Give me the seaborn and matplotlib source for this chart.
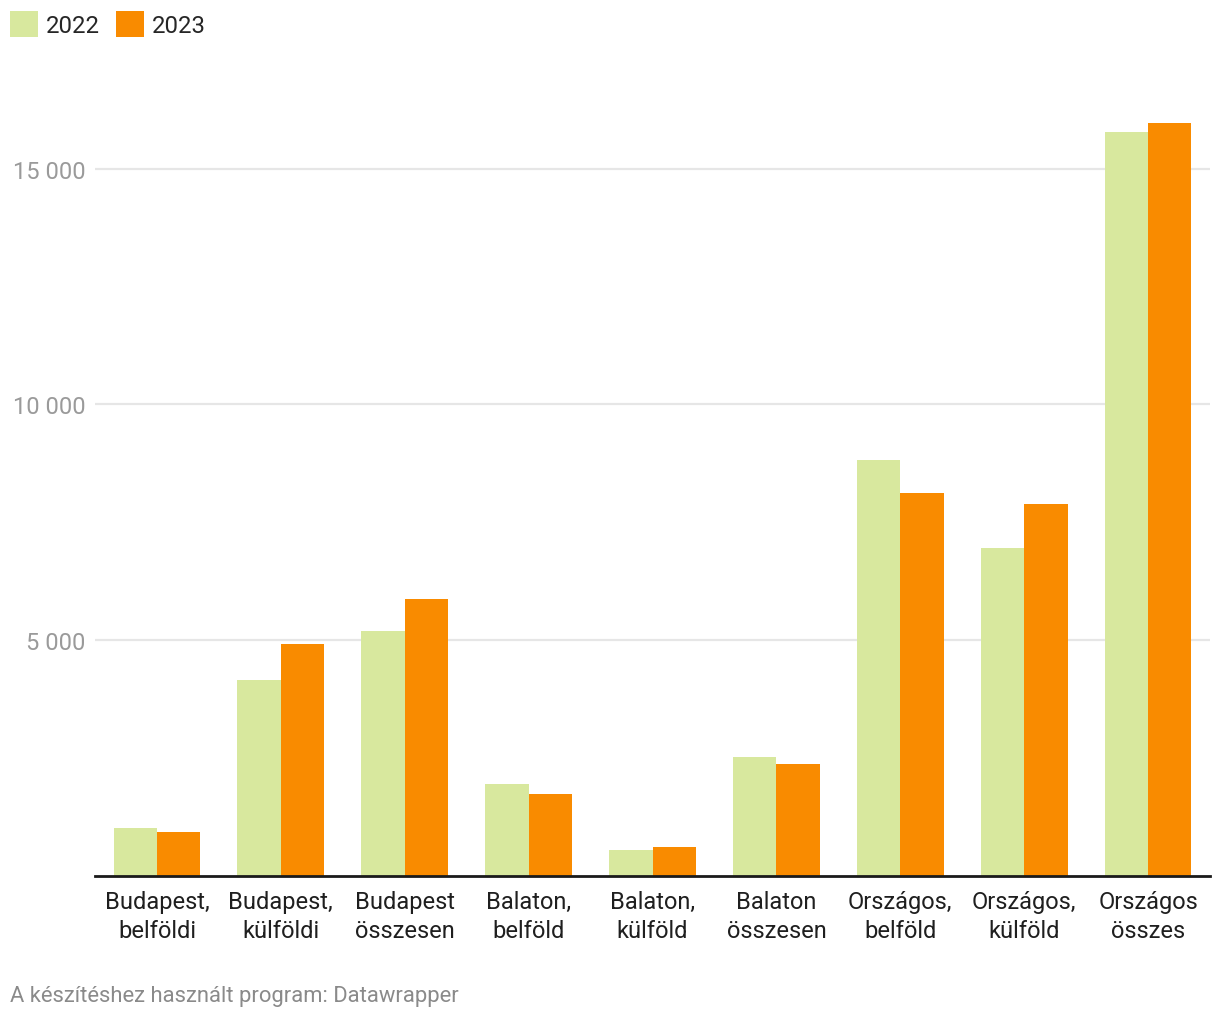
import matplotlib
matplotlib.use("Agg")
import matplotlib.pyplot as plt
from matplotlib.patches import Patch
import seaborn as sns
import pandas as pd

categories = ["Budapest,\nbelföldi", "Budapest,\nkülföldi", "Budapest\nösszesen",
              "Balaton,\nbelföld", "Balaton,\nkülföld", "Balaton\nösszesen",
              "Országos,\nbelföld", "Országos,\nkülföld", "Országos\nösszes"]
values_2022 = [1025, 4150, 5190, 1958, 557, 2528, 8830, 6955, 15785]
values_2023 = [940, 4915, 5880, 1748, 620, 2380, 8128, 7890, 15975]
years = ["2022", "2023"]
colors = {"2022": "#d8e89e", "2023": "#f98b00"}
yticks = [5000, 10000, 15000]
ytick_labels = ["5 000", "10 000", "15 000"]

df = pd.DataFrame({
    "cat": categories * 2,
    "value": values_2022 + values_2023,
    "year": ["2022"] * len(categories) + ["2023"] * len(categories),
})

sns.set_theme(style="white")
plt.rcParams["font.family"] = ["Roboto", "DejaVu Sans"]

fig = plt.figure(figsize=(12.2, 10.2), dpi=100)
ax = fig.add_axes([95 / 1220, (1020 - 877) / 1020, (1210 - 95) / 1220, (877 - 99) / 1020])

sns.barplot(data=df, x="cat", y="value", hue="year", palette=colors, width=0.70,
            saturation=1, ax=ax, legend=False, errorbar=None, linewidth=0)

ax.set_xlim(-0.5, len(categories) - 0.5)
ax.set_ylim(0, 16500)
ax.set_yticks(yticks)
ax.set_yticklabels(ytick_labels)
ax.set_xlabel("")
ax.set_ylabel("")

for s in ["top", "right", "left"]:
    ax.spines[s].set_visible(False)
ax.spines["bottom"].set_color("#1a1a1a")
ax.spines["bottom"].set_linewidth(2)
ax.spines["bottom"].set_zorder(5)

ax.yaxis.grid(True, color="#e6e6e6", linewidth=1.6)
ax.set_axisbelow(True)
ax.tick_params(axis="y", length=0, pad=7, labelsize=17, labelcolor="#9a9a9a")
ax.tick_params(axis="x", length=0, pad=10, labelsize=17, labelcolor="#1f1f1f")
for lab in ax.get_xticklabels():
    lab.set_linespacing(1.33)

handles = [Patch(facecolor=colors[y], edgecolor="none") for y in years]
fig.legend(handles, years, loc="upper left", bbox_to_anchor=(10 / 1220, 1 - 12 / 1020), ncol=2,
           frameon=False, fontsize=17.2, handlelength=1.17, handleheight=1.3,
           handletextpad=0.35, columnspacing=0.65, borderaxespad=0, borderpad=0)

fig.text(10 / 1220, 1 - 997 / 1020, "A készítéshez használt program: Datawrapper",
         fontsize=15.8, color="#8a8a8a", va="center", ha="left")

fig.savefig("out.png", dpi=100)
